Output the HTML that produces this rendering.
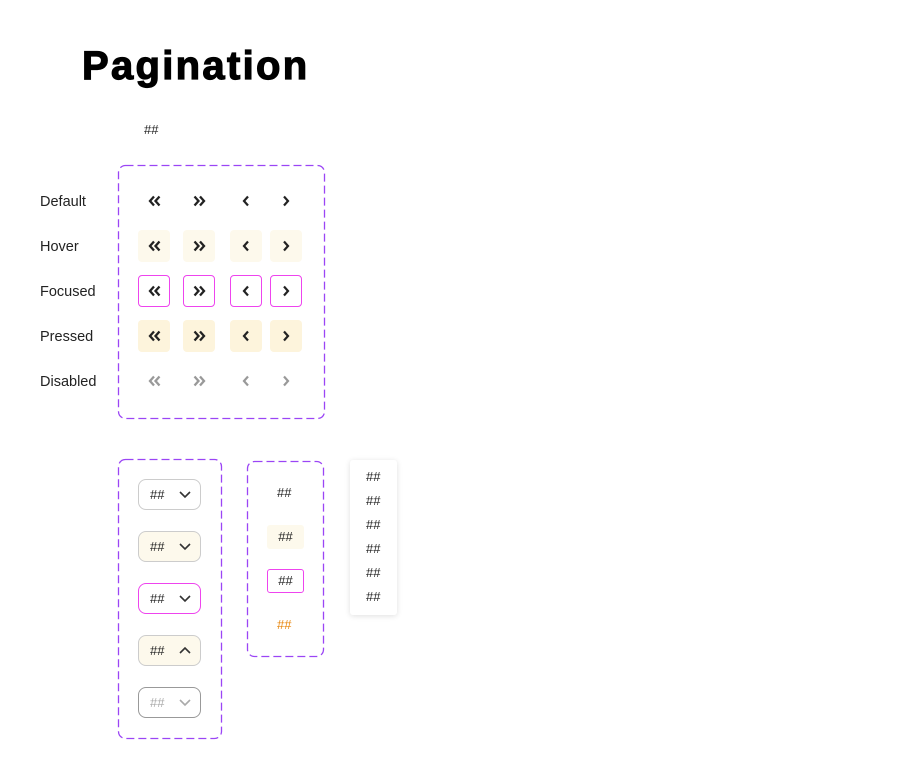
<!DOCTYPE html>
<html><head><meta charset="utf-8"><style>
*{margin:0;padding:0;box-sizing:border-box}
body{width:909px;height:784px;background:#fff;position:relative;overflow:hidden;font-family:"Liberation Sans",sans-serif;color:#222}
.a{position:absolute}
.t{left:82px;top:44px;font-size:40px;font-weight:bold;letter-spacing:2.3px;color:#000;-webkit-text-stroke:1.2px #000}
.lbl{left:40px;font-size:14.5px;color:#222}
.b{position:absolute;width:32px;height:32px;border-radius:4px;display:flex;align-items:center;justify-content:center}
.h{background:#fdf9ec}.p{background:#fdf4dc}.f{border:1.5px solid #ee44ee}
.s{position:absolute;left:138px;width:63px;height:31px;border:1.3px solid #ccc;border-radius:8px;font-size:13px;display:flex;align-items:center;padding-left:11px}
.s svg{position:absolute;right:9px;top:10px}
.hs{font-size:13px}
</style></head><body>
<div class="a t">Pagination</div>
<div class="a hs" style="left:144px;top:122px">##</div>
<div class="a lbl" style="top:194px">Default</div>
<div class="a lbl" style="top:239px">Hover</div>
<div class="a lbl" style="top:284px">Focused</div>
<div class="a lbl" style="top:329px">Pressed</div>
<div class="a lbl" style="top:374px">Disabled</div>

<svg class="a" style="left:0;top:0" width="909" height="784" fill="none" stroke="#9b45f5" stroke-width="1.3" stroke-dasharray="8 4">
<rect x="118.5" y="165.5" width="206" height="253" rx="7"/>
<rect x="118.5" y="459.5" width="103" height="279" rx="7"/>
<rect x="247.5" y="461.5" width="76" height="195" rx="7"/>
</svg>

<svg width="0" height="0" style="position:absolute"><defs>
<g id="dl" fill="none" stroke-width="2.3"><path d="M6 1.5 L2 6 L6 10.5 M11.5 1.5 L7.5 6 L11.5 10.5"/></g>
<g id="dr" fill="none" stroke-width="2.3"><path d="M1.5 1.5 L5.5 6 L1.5 10.5 M7 1.5 L11 6 L7 10.5"/></g>
<g id="sl" fill="none" stroke-width="2.2"><path d="M8 1.5 L4 6 L8 10.5"/></g>
<g id="sr" fill="none" stroke-width="2.2"><path d="M4 1.5 L8 6 L4 10.5"/></g>
</defs></svg>

<div class="b" style="left:138px;top:185px"><svg width="13" height="12" stroke="#222"><use href="#dl"/></svg></div>
<div class="b" style="left:183px;top:185px"><svg width="13" height="12" stroke="#222"><use href="#dr"/></svg></div>
<div class="b" style="left:230px;top:185px"><svg width="12" height="12" stroke="#222"><use href="#sl"/></svg></div>
<div class="b" style="left:270px;top:185px"><svg width="12" height="12" stroke="#222"><use href="#sr"/></svg></div>
<div class="b h" style="left:138px;top:230px"><svg width="13" height="12" stroke="#222"><use href="#dl"/></svg></div>
<div class="b h" style="left:183px;top:230px"><svg width="13" height="12" stroke="#222"><use href="#dr"/></svg></div>
<div class="b h" style="left:230px;top:230px"><svg width="12" height="12" stroke="#222"><use href="#sl"/></svg></div>
<div class="b h" style="left:270px;top:230px"><svg width="12" height="12" stroke="#222"><use href="#sr"/></svg></div>
<div class="b f" style="left:138px;top:275px"><svg width="13" height="12" stroke="#222"><use href="#dl"/></svg></div>
<div class="b f" style="left:183px;top:275px"><svg width="13" height="12" stroke="#222"><use href="#dr"/></svg></div>
<div class="b f" style="left:230px;top:275px"><svg width="12" height="12" stroke="#222"><use href="#sl"/></svg></div>
<div class="b f" style="left:270px;top:275px"><svg width="12" height="12" stroke="#222"><use href="#sr"/></svg></div>
<div class="b p" style="left:138px;top:320px"><svg width="13" height="12" stroke="#222"><use href="#dl"/></svg></div>
<div class="b p" style="left:183px;top:320px"><svg width="13" height="12" stroke="#222"><use href="#dr"/></svg></div>
<div class="b p" style="left:230px;top:320px"><svg width="12" height="12" stroke="#222"><use href="#sl"/></svg></div>
<div class="b p" style="left:270px;top:320px"><svg width="12" height="12" stroke="#222"><use href="#sr"/></svg></div>
<div class="b" style="left:138px;top:365px"><svg width="13" height="12" stroke="#999"><use href="#dl"/></svg></div>
<div class="b" style="left:183px;top:365px"><svg width="13" height="12" stroke="#999"><use href="#dr"/></svg></div>
<div class="b" style="left:230px;top:365px"><svg width="12" height="12" stroke="#999"><use href="#sl"/></svg></div>
<div class="b" style="left:270px;top:365px"><svg width="12" height="12" stroke="#999"><use href="#sr"/></svg></div>

<div class="s" style="top:479px">##<svg width="12" height="10" fill="none" stroke="#333" stroke-width="1.6"><path d="M1 2 L6 7 L11 2"/></svg></div>
<div class="s" style="top:531px;background:#fdf9ec">##<svg width="12" height="10" fill="none" stroke="#333" stroke-width="1.6"><path d="M1 2 L6 7 L11 2"/></svg></div>
<div class="s" style="top:583px;border-color:#ee44ee">##<svg width="12" height="10" fill="none" stroke="#333" stroke-width="1.6"><path d="M1 2 L6 7 L11 2"/></svg></div>
<div class="s" style="top:635px;background:#fdf9ec">##<svg width="12" height="10" fill="none" stroke="#333" stroke-width="1.6"><path d="M1 7 L6 2 L11 7"/></svg></div>
<div class="s" style="top:687px;border-color:#999;color:#aaa">##<svg width="12" height="10" fill="none" stroke="#aaa" stroke-width="1.6"><path d="M1 2 L6 7 L11 2"/></svg></div>

<div class="a hs" style="left:277px;top:485px">##</div>
<div class="a hs" style="left:267px;top:525px;width:37px;height:24px;background:#fdf9ec;border-radius:3px;text-align:center;line-height:24px">##</div>
<div class="a hs" style="left:267px;top:569px;width:37px;height:24px;border:1.3px solid #ee44ee;border-radius:3px;text-align:center;line-height:21px">##</div>
<div class="a hs" style="left:277px;top:617px;color:#e8860c">##</div>

<div class="a" style="left:350px;top:460px;width:47px;height:155px;background:#fff;border-radius:3px;box-shadow:0 1px 6px rgba(0,0,0,0.13)"></div>
<div class="a hs" style="left:366px;top:469px">##</div>
<div class="a hs" style="left:366px;top:493px">##</div>
<div class="a hs" style="left:366px;top:517px">##</div>
<div class="a hs" style="left:366px;top:541px">##</div>
<div class="a hs" style="left:366px;top:565px">##</div>
<div class="a hs" style="left:366px;top:589px">##</div>
</body></html>
